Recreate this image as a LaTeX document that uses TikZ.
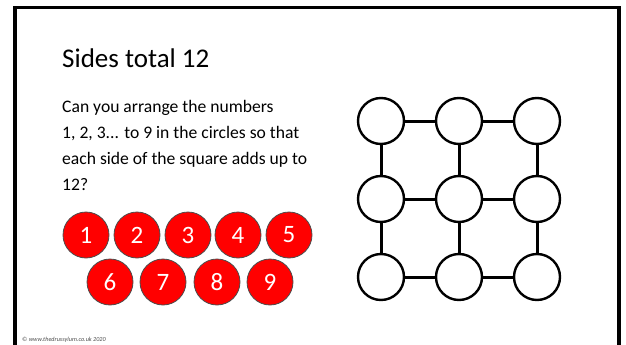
\documentclass[tikz,border=0pt]{standalone}
\usepackage{fontspec}
\setmainfont{Carlito}
\begin{document}
\begin{tikzpicture}[x=1pt,y=-1pt,
  redball/.style={circle,draw=black!70,line width=0.8pt,fill=red,minimum size=46pt,inner sep=0pt,text=white,font=\fontsize{25}{25}\selectfont},
  gridball/.style={circle,draw=black,line width=2.4pt,fill=white,minimum size=46pt,inner sep=0pt},
  link/.style={line width=3pt,black}]
\useasboundingbox (0,0) rectangle (626,345);
\clip (0,0) rectangle (626,345);
\draw[line width=3.5pt] (15,7.5) rectangle (619,370);
\node[anchor=base west,inner sep=0pt,font=\fontsize{27}{27}\selectfont] (title) at (62,67) {Sides total 12};
\node[anchor=north west,inner sep=0pt,align=left,font=\fontsize{17.6}{26}\selectfont] (body) at (62,100)
 {Can you arrange the numbers\\1, 2, 3{.}{.}{.} to 9 in the circles so that\\each side of the square adds up to\\12?};
% red number balls
\node[redball] (n1) at (86,235) {1};
\node[redball] (n2) at (137,235) {2};
\node[redball] (n3) at (188,235) {3};
\node[redball] (n4) at (238,235) {4};
\node[redball] (n5) at (289,235) {5};
\node[redball] (n6) at (110,282) {6};
\node[redball] (n7) at (163,282) {7};
\node[redball] (n8) at (217,282) {8};
\node[redball] (n9) at (270,282) {9};
% grid
\foreach \r/\y in {1/121,2/199,3/277}{
  \foreach \c/\x in {1/381,2/459,3/537}{
    \coordinate (p\r\c) at (\x,\y);
  }
}
\draw[link] (p11) -- (p12) -- (p13);
\draw[link] (p21) -- (p22) -- (p23);
\draw[link] (p31) -- (p32) -- (p33);
\draw[link] (p11) -- (p21) -- (p31);
\draw[link] (p12) -- (p22) -- (p32);
\draw[link] (p13) -- (p23) -- (p33);
\foreach \r in {1,2,3}{\foreach \c in {1,2,3}{\node[gridball] (g\r\c) at (p\r\c) {};}}
\node[anchor=base west,inner sep=0pt,text=black!70,font=\fontsize{6.2}{6}\selectfont\itshape] (copy) at (22,341) {© www.thedrussylum.co.uk 2020};
\end{tikzpicture}
\end{document}
